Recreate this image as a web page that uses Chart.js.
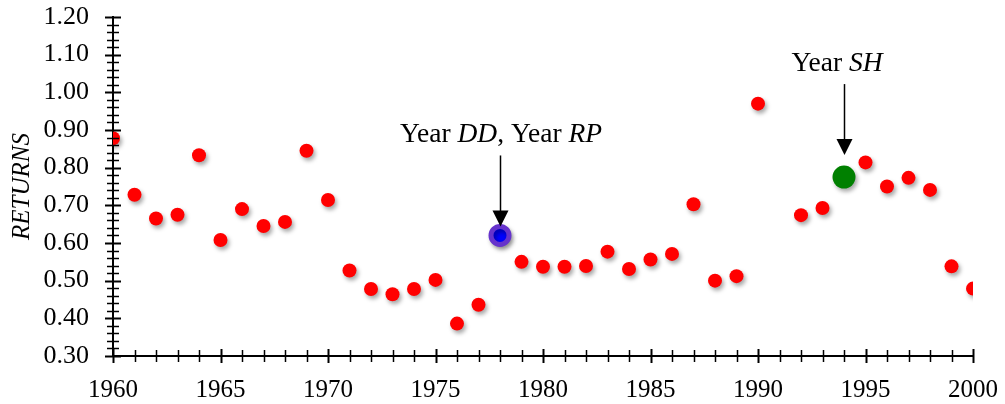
<!DOCTYPE html>
<html>
<head>
    <title>Returns by year</title>
    <script src="https://cdn.jsdelivr.net/npm/chart.js@4.4.1/dist/chart.umd.min.js"></script>
    <style>
        body { margin: 0; background: #fff; }
        #wrap { width: 1005px; height: 404px; }
    </style>
</head>
<body>
<div id="wrap"><canvas id="myChart" width="1005" height="404"></canvas></div>
<script>
    // values
    var years = [1960, 1961, 1962, 1963, 1964, 1965, 1966, 1967, 1968, 1969,
                 1970, 1971, 1972, 1973, 1974, 1975, 1976, 1977, 1978, 1979,
                 1980, 1981, 1982, 1983, 1984, 1985, 1986, 1987, 1988, 1989,
                 1990, 1992, 1993, 1994, 1995, 1996, 1997, 1998, 1999, 2000];
    var returns = [0.878, 0.728, 0.665, 0.675, 0.833, 0.608, 0.690, 0.645, 0.656, 0.845,
                   0.714, 0.527, 0.478, 0.464, 0.478, 0.502, 0.386, 0.436, 0.620, 0.550,
                   0.537, 0.537, 0.539, 0.577, 0.531, 0.556, 0.571, 0.703, 0.500, 0.512,
                   0.970, 0.674, 0.693, 0.775, 0.814, 0.750, 0.773, 0.741, 0.538, 0.479];
    var yearDDRP = 1978;
    var yearSH = 1994;
    var yTickStep = 0.1;
    var xTickStep = 5;

    var ddPoint = [], shPoint = [], others = [];
    for (var i = 0; i < years.length; i++) {
        var p = { x: years[i], y: returns[i] };
        if (years[i] === yearDDRP) ddPoint.push(p);
        else if (years[i] === yearSH) shPoint.push(p);
        else others.push(p);
    }

    var serif = "'Liberation Serif', 'Times New Roman', serif";

    // soft shadow under the dots
    var shadowPlugin = {
        id: 'shadow',
        beforeDatasetsDraw: function (chart) {
            var c = chart.ctx;
            c.save();
            c.shadowColor = 'rgba(0,0,0,0.35)';
            c.shadowBlur = 4;
            c.shadowOffsetX = 2;
            c.shadowOffsetY = 3;
        },
        afterDatasetsDraw: function (chart) {
            chart.ctx.restore();
        }
    };

    // tick marks that cross the axis lines
    var crossTicks = {
        id: 'crossTicks',
        afterDraw: function (chart) {
            var c = chart.ctx;
            var xs = chart.scales.x, ys = chart.scales.y;
            var ax = xs.getPixelForValue(xs.min);
            var ay = ys.getPixelForValue(ys.min);
            c.save();
            c.strokeStyle = '#000';
            for (var k = 0; k <= 45; k++) {
                var v = ys.min + k * 0.02;
                var py = Math.round(ys.getPixelForValue(v)) + 0.5;
                var major = k % 5 === 0;
                var half = major ? 8 : 6;
                c.lineWidth = major ? 2 : 1.5;
                c.beginPath();
                c.moveTo(ax - half, py);
                c.lineTo(ax + half, py);
                c.stroke();
            }
            for (var yr = xs.min; yr <= xs.max; yr++) {
                var px = Math.round(xs.getPixelForValue(yr)) + 0.5;
                var maj = yr % 5 === 0;
                var h = maj ? 7 : 6;
                c.lineWidth = maj ? 2 : 1.5;
                c.beginPath();
                c.moveTo(px, ay - h);
                c.lineTo(px, ay + h);
                c.stroke();
            }
            c.restore();
        }
    };

    function drawLabel(c, parts, cx, baseline, size) {
        var total = 0;
        parts.forEach(function (pt) {
            c.font = (pt[1] ? 'italic ' : '') + size + 'px ' + serif;
            total += c.measureText(pt[0]).width;
        });
        var x = cx - total / 2;
        parts.forEach(function (pt) {
            c.font = (pt[1] ? 'italic ' : '') + size + 'px ' + serif;
            c.fillText(pt[0], x, baseline);
            x += c.measureText(pt[0]).width;
        });
    }

    function drawArrow(c, x, y0, y1) {
        c.beginPath();
        c.moveTo(x, y0);
        c.lineTo(x, y1 - 14);
        c.lineWidth = 1.5;
        c.stroke();
        c.beginPath();
        c.moveTo(x - 8, y1 - 16);
        c.lineTo(x + 8, y1 - 16);
        c.lineTo(x, y1);
        c.closePath();
        c.fill();
    }

    var notes = {
        id: 'notes',
        afterDraw: function (chart) {
            var c = chart.ctx;
            var xs = chart.scales.x, ys = chart.scales.y;
            c.save();
            c.fillStyle = '#000';
            c.strokeStyle = '#000';
            c.textAlign = 'left';
            c.textBaseline = 'alphabetic';

            var dx = xs.getPixelForValue(ddPoint[0].x);
            var dy = ys.getPixelForValue(ddPoint[0].y);
            drawLabel(c, [['Year ', false], ['DD', true], [', Year ', false], ['RP', true]], dx + 1, dy - 93, 27.5);
            drawArrow(c, Math.round(dx) + 0.5, dy - 80, dy - 9);

            var sx = xs.getPixelForValue(shPoint[0].x);
            var sy = ys.getPixelForValue(shPoint[0].y);
            drawLabel(c, [['Year ', false], ['SH', true]], sx - 7, sy - 106, 27.5);
            drawArrow(c, Math.round(sx) + 0.5, sy - 93, sy - 22);
            c.restore();
        }
    };

    var ctx = document.getElementById('myChart').getContext('2d');

    var myChart = new Chart(ctx, {
        type: 'scatter',
        data: {
            datasets: [{
                label: 'Returns',
                data: others,
                backgroundColor: '#ff0000',
                borderColor: '#ff0000',
                borderWidth: 0,
                pointRadius: 7,
                pointHoverRadius: 7
            }, {
                label: 'Year DD, Year RP',
                data: ddPoint,
                backgroundColor: '#0000ff',
                borderColor: '#6633cc',
                borderWidth: 5,
                pointRadius: 9,
                pointHoverRadius: 9
            }, {
                label: 'Year SH',
                data: shPoint,
                backgroundColor: '#008000',
                borderColor: '#008000',
                borderWidth: 0,
                pointRadius: 11.5,
                pointHoverRadius: 11.5
            }]
        },
        options: {
            responsive: false,
            animation: false,
            events: [],
            layout: { padding: { left: 0, right: 32, top: 17, bottom: 0 } },
            plugins: {
                legend: { display: false },
                tooltip: { enabled: false }
            },
            scales: {
                x: {
                    type: 'linear',
                    min: 1960,
                    max: 2000,
                    border: { display: true, color: '#000', width: 2 },
                    grid: { display: false },
                    ticks: {
                        stepSize: xTickStep,
                        padding: 11,
                        color: '#000',
                        font: { family: serif, size: 25 },
                        maxRotation: 0,
                        callback: function (v) { return String(v); }
                    },
                    afterFit: function (s) {
                        s.height = 48;
                        s.paddingLeft = 0;
                        s.paddingRight = 0;
                    }
                },
                y: {
                    min: 0.3,
                    max: 1.2,
                    border: { display: true, color: '#000', width: 2 },
                    grid: { display: false },
                    title: {
                        display: true,
                        text: 'RETURNS',
                        color: '#000',
                        font: { family: serif, size: 25, style: 'italic' },
                        padding: { top: 7, bottom: 0 }
                    },
                    ticks: {
                        stepSize: yTickStep,
                        padding: 16,
                        color: '#000',
                        font: { family: serif, size: 26 },
                        callback: function (v) { return Number(v).toFixed(2); }
                    },
                    afterFit: function (s) {
                        s.width = 113;
                        s.paddingTop = 0;
                        s.paddingBottom = 0;
                    }
                }
            }
        },
        plugins: [shadowPlugin, crossTicks, notes]
    });
</script>
</body>
</html>
